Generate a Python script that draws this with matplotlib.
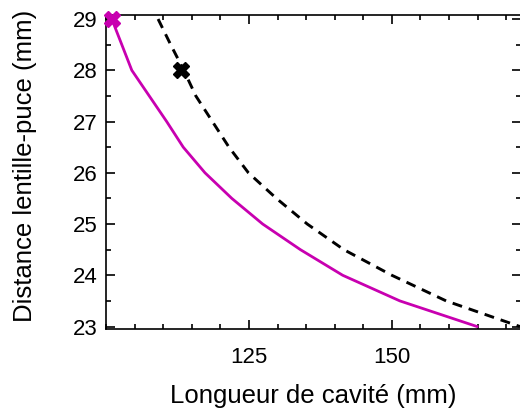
import matplotlib
matplotlib.use("Agg")
import matplotlib.pyplot as plt
from matplotlib.ticker import MultipleLocator

plt.rcParams['font.family'] = ['Liberation Sans', 'DejaVu Sans']

# measured curve (magenta, solid)
meas_dist = [29, 28, 27, 26.5, 26, 25.5, 25, 24.5, 24, 23.5, 23]
meas_cav = [101.0, 104.5, 110.6, 113.5, 117.3, 122.0, 127.4, 134.0, 141.4, 151.4, 164.9]

# model curve (black, dashed)
model_dist = [29, 28.5, 28, 27.5, 27, 26.5, 26, 25.5, 25, 24.5, 24, 23.5, 23]
model_cav = [109.1, 111.3, 113.6, 115.7, 118.6, 121.5, 124.9, 129.8, 135.2, 141.6, 150.0, 159.5, 172.4]

# highlighted points
mark_cav = [101.0, 113.1]
mark_dist = [29, 28]
mark_colors = ['#c800b0', 'black']

x_ticks = [125, 150]

fig = plt.figure(figsize=(5.2, 4.15), dpi=100)
ax = fig.add_axes([0.204, 0.207, 0.798, 0.757])

ax.plot(model_cav, model_dist, color='black', lw=2.1, ls=(0, (3.4, 2.4)))
ax.plot(meas_cav, meas_dist, color='#c800b0', lw=2.0)
for cx, cy, c in zip(mark_cav, mark_dist, mark_colors):
    ax.plot(cx, cy, marker='X', ms=11, color=c, mec=c, clip_on=False, zorder=5)

ax.set_xlim(100, 172.6)
ax.set_ylim(22.95, 29.08)
ax.set_xticks(x_ticks)
ax.xaxis.set_minor_locator(MultipleLocator(5))
ax.yaxis.set_major_locator(MultipleLocator(1))
ax.yaxis.set_minor_locator(MultipleLocator(0.5))

ax.tick_params(which='both', direction='in', top=True, right=True, width=1.2, colors='black')
ax.tick_params(which='major', length=6.5)
ax.tick_params(which='minor', length=3.6)
ax.tick_params(axis='x', which='major', pad=13, labelsize=16)
ax.tick_params(axis='y', which='major', pad=6, labelsize=16)
for s in ax.spines.values():
    s.set_linewidth(1.2)

ax.set_xlabel('Longueur de cavité (mm)', fontsize=18.5)
ax.set_ylabel('Distance lentille-puce (mm)', fontsize=18.5)
ax.xaxis.set_label_coords(0.5, -0.175)
ax.yaxis.set_label_coords(-0.166, 0.52)

fig.savefig('out.png', dpi=100)
